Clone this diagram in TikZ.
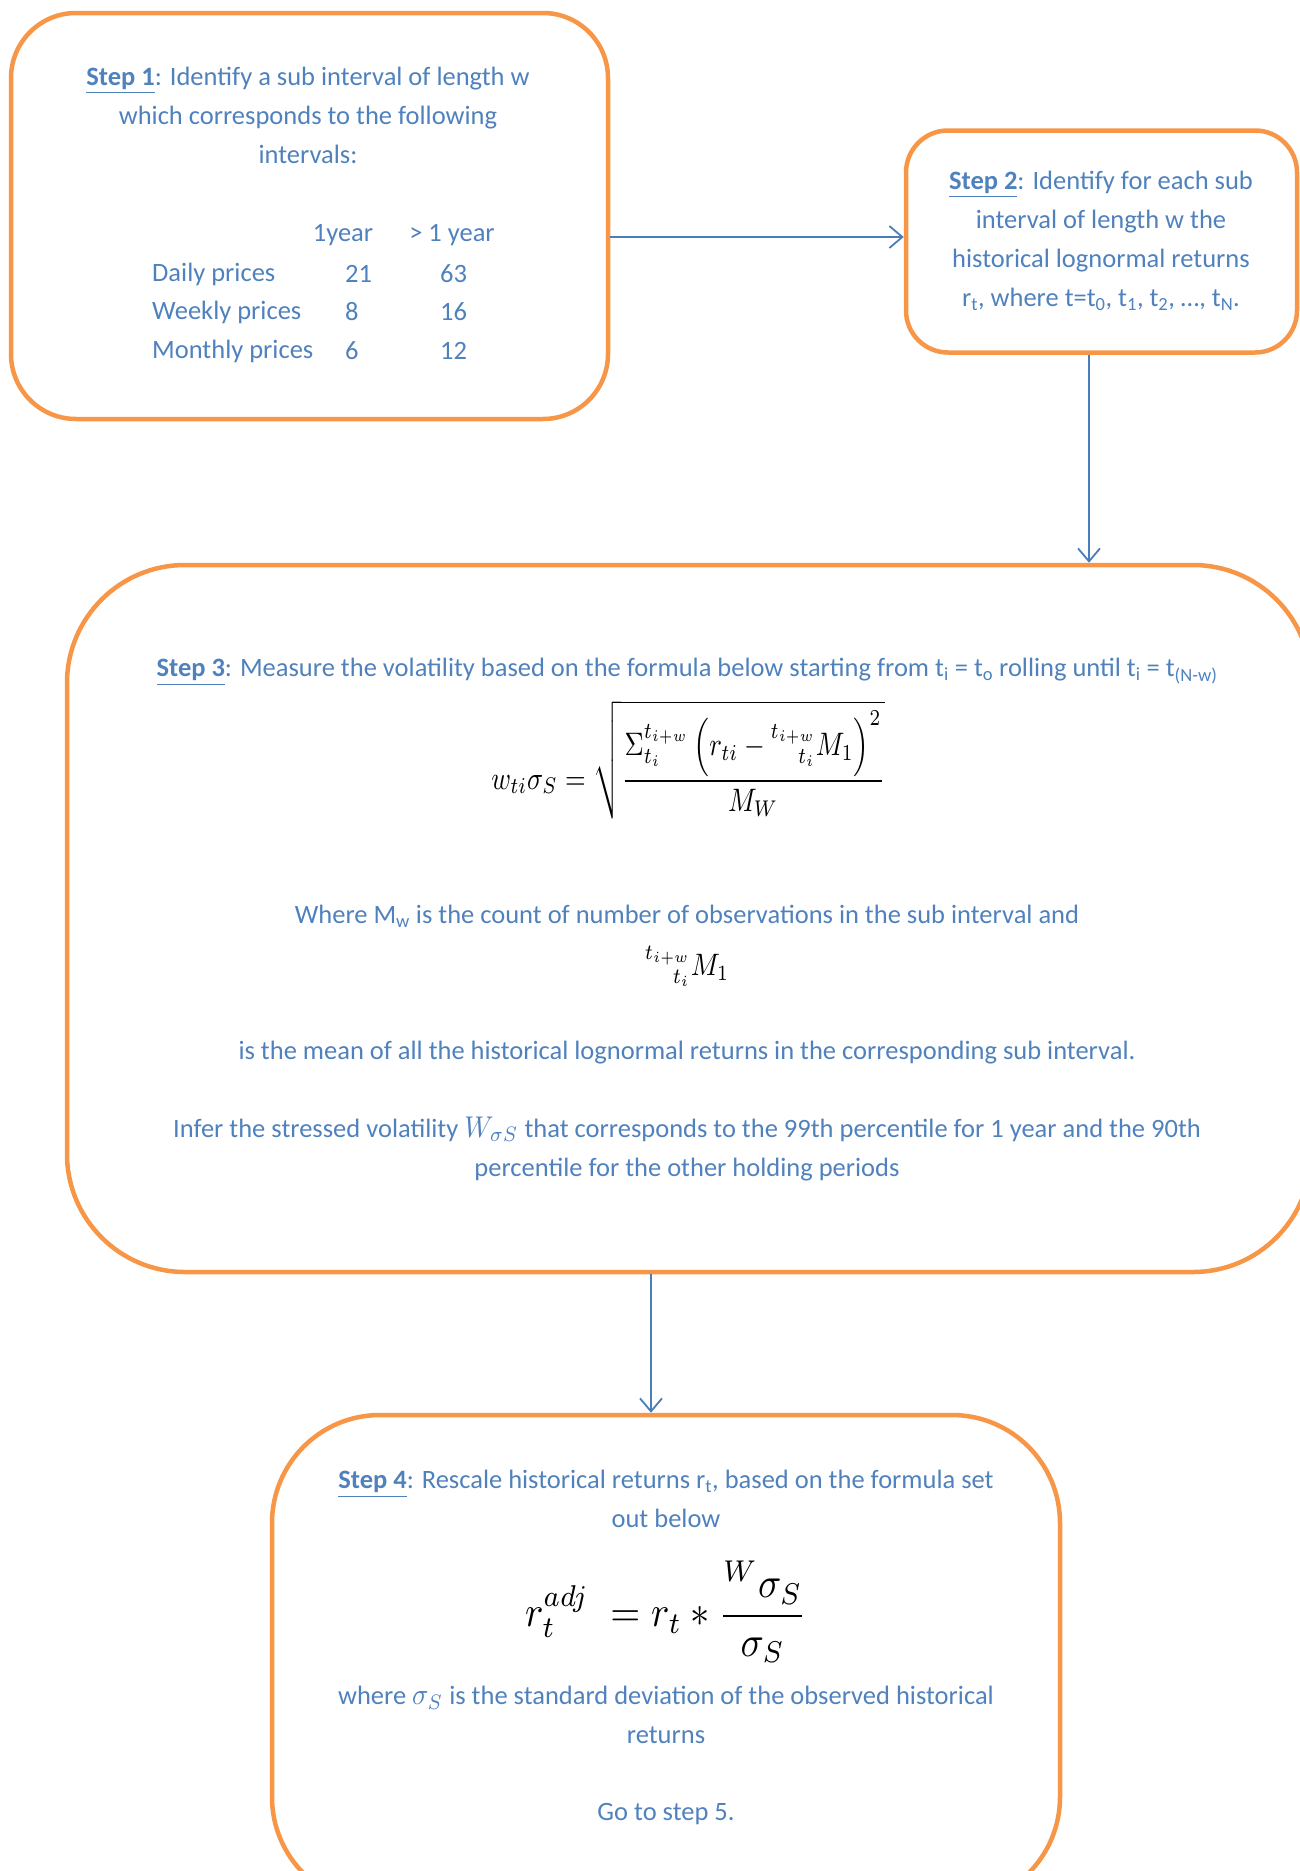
\documentclass[tikz,border=0pt]{standalone}
\usepackage{amsmath}
\usepackage{mathtools}
\usepackage[no-math]{fontspec}
\setmainfont{Carlito}
\usetikzlibrary{arrows.meta}
\definecolor{boxorange}{HTML}{F79646}
\definecolor{txtblue}{HTML}{4F81BD}
\definecolor{arrblue}{HTML}{4A7EBB}
\newcommand{\dispeq}[3]{\scalebox{#1}[#2]{\fontsize{10}{12}\selectfont$\displaystyle #3$}}
\newcommand{\inlm}[1]{\scalebox{2.7}[3.0]{\fontsize{10}{12}\selectfont$#1$}}
\begin{document}
\begin{tikzpicture}[x=1pt,y=-1pt,
  stepbox/.style={draw=boxorange,line width=4.5pt,rounded corners=#1,rectangle,inner sep=0pt},
  txt/.style={text=txtblue,font=\fontsize{26.5}{39}\selectfont,inner sep=0pt,align=center},
  tabtxt/.style={text=txtblue,font=\fontsize{26.5}{39}\selectfont,inner sep=0pt,anchor=west},
  mathtxt/.style={text=black,inner sep=0pt},
  conn/.style={draw=arrblue,line width=1.8pt,-{Straight Barb[length=13pt,width=22pt]}}]
\useasboundingbox (0,0) rectangle (1299,1871);

% boxes
\node[stepbox=65pt,minimum width=597pt,minimum height=406pt] (box1) at (309.5,216) {};
\node[stepbox=42pt,minimum width=391pt,minimum height=222pt] (box2) at (1101.5,241.5) {};
\node[stepbox=118pt,minimum width=1244pt,minimum height=707pt] (box3) at (689,918.5) {};
\node[stepbox=108pt,minimum width=788pt,minimum height=490pt] (box4) at (666,1660) {};

% box 1 text
\node[txt] (s1) at (308,115) {\underline{\textbf{Step 1}}: Identify a sub interval of length w\\ which corresponds to the following\\ intervals:};
\node[txt] (h1) at (343,235) {1year};
\node[txt] (h2) at (452,235) {> 1 year};
\node[tabtxt] (r1) at (152,274) {Daily prices};
\node[tabtxt] (r2) at (152,312) {Weekly prices};
\node[tabtxt] (r3) at (152,351) {Monthly prices};
\node[tabtxt] (a1) at (345,274) {21};
\node[tabtxt] (a2) at (345,312) {8};
\node[tabtxt] (a3) at (345,351) {6};
\node[tabtxt] (b1) at (440,274) {63};
\node[tabtxt] (b2) at (440,312) {16};
\node[tabtxt] (b3) at (440,351) {12};

% box 2 text
\node[txt] (s2) at (1101,240.5) {\underline{\textbf{Step 2}}: Identify for each sub\\ interval of length w the\\ historical lognormal returns\\ r\textsubscript{t}, where t=t\textsubscript{0}, t\textsubscript{1}, t\textsubscript{2}, …, t\textsubscript{N}.};

% box 3 text
\node[txt] (s3) at (687,672) {\underline{\textbf{Step 3}}: Measure the volatility based on the formula below starting from t\textsubscript{i} = t\textsubscript{o} rolling until t\textsubscript{i} = t\textsubscript{(N-w)}};
\node[mathtxt] (f3) at (688,760) {\dispeq{2.66}{3.25}{w_{ti}\sigma_S = \sqrt{\frac{\Sigma_{t_i}^{t_{i+w}}\left(r_{ti} - \prescript{t_{i+w}}{t_i}{M_1}\right)^{2}}{M_W}}}};
\node[txt] (w3) at (687,916) {Where M\textsubscript{w} is the count of number of observations in the sub interval and};
\node[mathtxt] (m3) at (687,966) {\dispeq{2.7}{3.1}{\prescript{t_{i+w}}{t_i}{M_1}}};
\node[txt] (i3) at (687,1053) {is the mean of all the historical lognormal returns in the corresponding sub interval.};
\node[txt] (n3) at (687,1149) {Infer the stressed volatility \inlm{W_{\sigma S}} that corresponds to the 99th percentile for 1 year and the 90th\\ percentile for the other holding periods};

% box 4 text
\node[txt] (s4) at (666,1499) {\underline{\textbf{Step 4}}: Rescale historical returns r\textsubscript{t}, based on the formula set\\ out below};
\node[mathtxt] (f4) at (666,1612) {\dispeq{3.85}{4.3}{r_t^{adj}\; = r_t * \frac{{}^{W}\sigma_S}{\sigma_S}}};
\node[txt] (d4) at (666,1715) {where \inlm{\sigma_S} is the standard deviation of the observed historical\\ returns};
\node[txt] (g4) at (666,1814) {Go to step 5.};

% connectors
\draw[conn] (box1.east |- 0,237) -- (box2.west |- 0,237);
\draw[conn] (box2.south -| 1089,0) -- (box3.north -| 1089,0);
\draw[conn] (box3.south -| 651,0) -- (box4.north -| 651,0);
\end{tikzpicture}
\end{document}
